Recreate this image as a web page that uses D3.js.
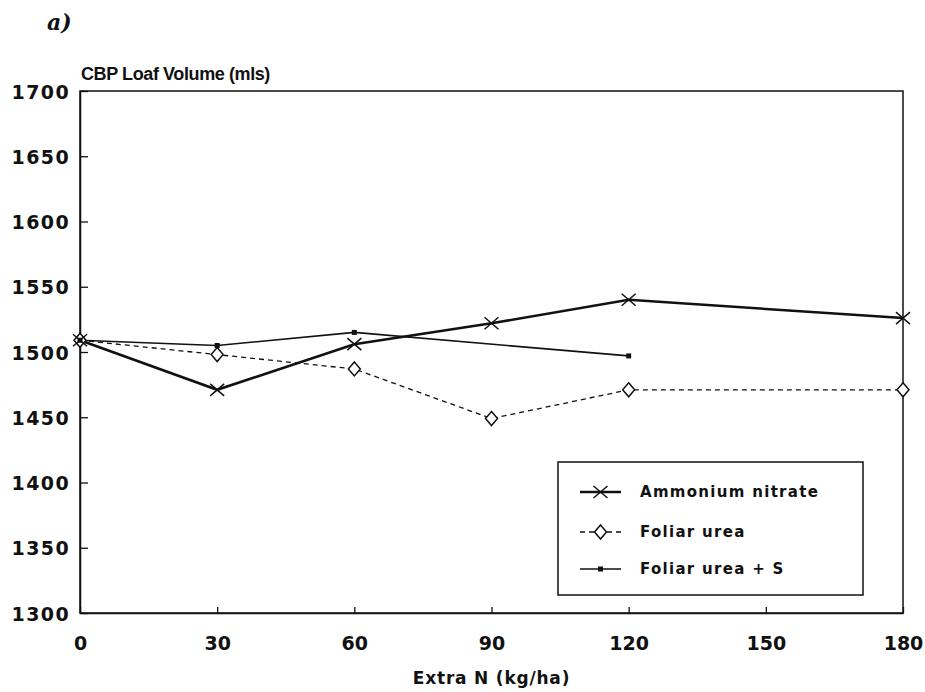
<!DOCTYPE html>
<html>
<head>
<meta charset="utf-8">
<script src="https://cdn.jsdelivr.net/npm/d3@7.9.0/dist/d3.min.js"></script>
<style>
  body { margin: 0; background: #fff; }
  svg text { font-family: "DejaVu Sans", sans-serif; font-weight: bold; fill: #111; }
</style>
</head>
<body>
<div id="chart"></div>
<script>
// data
const nLevels = [0, 30, 60, 90, 120, 180];
const ammoniumNitrate = [1509, 1471, 1506, 1522, 1540, 1526];
const foliarUrea = [1509, 1498, 1487, 1449, 1471, 1471];
const foliarUreaSLevels = [0, 30, 60, 120];
const foliarUreaS = [1509, 1505, 1515, 1497];
const xTicks = [0, 30, 60, 90, 120, 150, 180];
const yTicks = [1300, 1350, 1400, 1450, 1500, 1550, 1600, 1650, 1700];

const width = 925, height = 692;
const margin = { top: 91, right: 22, bottom: 79, left: 80 };
const usable = {
  left: margin.left, right: width - margin.right,
  top: margin.top, bottom: height - margin.bottom,
};

const x = d3.scaleLinear().domain([0, 180]).range([usable.left, usable.right]);
const y = d3.scaleLinear().domain([1300, 1700]).range([usable.bottom, usable.top]);

const svg = d3.select('#chart').append('svg')
  .attr('width', width).attr('height', height);

// frame
svg.append('rect')
  .attr('x', usable.left).attr('y', usable.top)
  .attr('width', usable.right - usable.left)
  .attr('height', usable.bottom - usable.top)
  .attr('fill', 'none').attr('stroke', '#111').attr('stroke-width', 1.5);

// axes with inward ticks
const xAxis = svg.append('g')
  .attr('transform', `translate(0, ${usable.bottom})`)
  .call(d3.axisBottom(x).tickValues(xTicks).tickFormat(d3.format('d'))
    .tickSizeInner(-6).tickSizeOuter(0).tickPadding(24));
const yAxis = svg.append('g')
  .attr('transform', `translate(${usable.left}, 0)`)
  .call(d3.axisLeft(y).tickValues(yTicks).tickFormat(d3.format('d'))
    .tickSizeInner(-8).tickSizeOuter(0).tickPadding(10));

[xAxis, yAxis].forEach(g => {
  g.select('.domain').attr('stroke', '#111').attr('stroke-width', 1.5);
  g.selectAll('.tick line').attr('stroke', '#111').attr('stroke-width', 1.3);
  g.selectAll('.tick text')
    .style('font-size', '19px')
    .style('font-family', '"DejaVu Sans", sans-serif')
    .style('font-weight', 'bold')
    .attr('fill', '#111');
});
yAxis.selectAll('.tick text').attr('dy', '0.38em').style('letter-spacing', '1.4px');

// titles
svg.append('text').attr('x', 47).attr('y', 30)
  .style('font-size', '22px').style('font-style', 'italic')
  .style('font-family', '"DejaVu Serif", serif').text('a)');
svg.append('text').attr('x', 81).attr('y', 80)
  .style('font-size', '18px').style('letter-spacing', '-0.4px')
  .style('font-family', '"Liberation Sans", Arial, sans-serif')
  .text('CBP Loaf Volume (mls)');
svg.append('text').attr('x', x(90)).attr('y', 684)
  .attr('text-anchor', 'middle')
  .style('font-size', '17px').style('letter-spacing', '0.8px').text('Extra N (kg/ha)');

const line = d3.line().x(d => x(d[0])).y(d => y(d[1]));

const anData = d3.zip(nLevels, ammoniumNitrate);
const fuData = d3.zip(nLevels, foliarUrea);
const fusData = d3.zip(foliarUreaSLevels, foliarUreaS);

// lines
svg.append('path').datum(fuData).attr('d', line)
  .attr('fill', 'none').attr('stroke', '#111').attr('stroke-width', 1.3)
  .attr('stroke-dasharray', '5,4');
svg.append('path').datum(fusData).attr('d', line)
  .attr('fill', 'none').attr('stroke', '#111').attr('stroke-width', 1.6);
svg.append('path').datum(anData).attr('d', line)
  .attr('fill', 'none').attr('stroke', '#111').attr('stroke-width', 2.6);

// markers
function cross(g, cx, cy) {
  g.append('path')
    .attr('d', `M${cx - 7},${cy - 6}L${cx + 7},${cy + 6}M${cx - 7},${cy + 6}L${cx + 7},${cy - 6}`)
    .attr('stroke', '#111').attr('stroke-width', 1.5).attr('fill', 'none');
}
function diamond(g, cx, cy) {
  g.append('path')
    .attr('d', `M${cx},${cy - 7}L${cx + 6},${cy}L${cx},${cy + 7}L${cx - 6},${cy}Z`)
    .attr('stroke', '#111').attr('stroke-width', 1.5).attr('fill', '#fff');
}
function dot(g, cx, cy) {
  g.append('rect').attr('x', cx - 2.5).attr('y', cy - 2.5)
    .attr('width', 5).attr('height', 5).attr('fill', '#111');
}

const marks = svg.append('g');
fuData.forEach(d => diamond(marks, x(d[0]), y(d[1])));
fusData.forEach(d => dot(marks, x(d[0]), y(d[1])));
anData.forEach(d => cross(marks, x(d[0]), y(d[1])));

// legend
const legend = svg.append('g');
legend.append('rect').attr('x', 558).attr('y', 462).attr('width', 305).attr('height', 133)
  .attr('fill', '#fff').attr('stroke', '#111').attr('stroke-width', 1.5);

const legendItems = [
  { label: 'Ammonium nitrate', width: 2.6, dash: null, mark: cross },
  { label: 'Foliar urea', width: 1.3, dash: '5,4', mark: diamond },
  { label: 'Foliar urea + S', width: 1.6, dash: null, mark: dot },
];
const rowY = [492, 532, 569];
legendItems.forEach((d, i) => {
  const ly = rowY[i];
  legend.append('line').attr('x1', 580).attr('x2', 621).attr('y1', ly).attr('y2', ly)
    .attr('stroke', '#111').attr('stroke-width', d.width)
    .attr('stroke-dasharray', d.dash);
  d.mark(legend, 600.5, ly);
  legend.append('text').attr('x', 640).attr('y', ly).attr('dy', '0.36em')
    .style('font-size', '15px').style('letter-spacing', '1.3px').text(d.label);
});
</script>
</body>
</html>
